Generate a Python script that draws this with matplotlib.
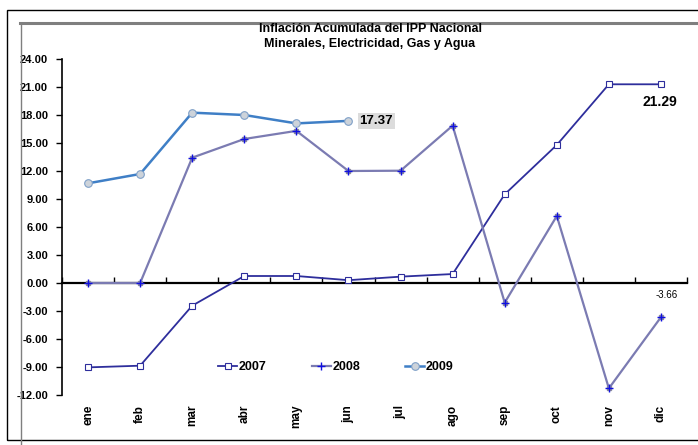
import numpy as np
import matplotlib.pyplot as plt
from matplotlib.lines import Line2D
from matplotlib.patches import Rectangle
import matplotlib.transforms as mtransforms

# ----- Datos -----
meses = ["ene", "feb", "mar", "abr", "may", "jun",
         "jul", "ago", "sep", "oct", "nov", "dic"]
v2007 = [-9.04, -8.86, -2.43, 0.75, 0.75, 0.30, 0.68, 0.96, 9.50, 14.79, 21.29, 21.29]
v2008 = [0.00, 0.00, 13.43, 15.43, 16.30, 12.00, 12.03, 16.86, -2.10, 7.18, -11.29, -3.66]
v2009 = [10.68, 11.68, 18.25, 18.00, 17.10, 17.37]
yticks = np.arange(-12, 24.01, 3)

plt.rcParams["font.family"] = ["Liberation Sans", "DejaVu Sans"]
NARROW = ["Liberation Sans Narrow", "Liberation Sans", "DejaVu Sans"]

W, H = 698, 445
fig = plt.figure(figsize=(W / 100, H / 100), dpi=100)
fig.patch.set_facecolor("white")

# ----- Marcos -----
fig.add_artist(Rectangle((7 / W, 1 - 440 / H), 1.2, (440 - 10) / H,
                         transform=fig.transFigure, fill=False,
                         edgecolor="black", linewidth=1.0))
fig.add_artist(Line2D([20 / W, 1], [1 - 23 / H, 1 - 23 / H],
                      transform=fig.transFigure, color="#7f7f7f", linewidth=2.2))
fig.add_artist(Line2D([21 / W, 21 / W], [1 - 23 / H, 0],
                      transform=fig.transFigure, color="#7f7f7f", linewidth=1.0))

# ----- Ejes -----
left, right, top, bottom = 62, 687, 59, 395
ax = fig.add_axes([left / W, 1 - bottom / H, (right - left) / W, (bottom - top) / H])
ax.set_facecolor("none")

x = np.arange(len(meses))
ax.set_xlim(-0.5, len(meses) - 0.5)
ax.set_ylim(-12, 24)

ax.plot(x, v2007, color="#2e2e9c", linewidth=1.3, marker="s", markersize=5,
        markerfacecolor="white", markeredgecolor="#2e2e9c", markeredgewidth=0.8,
        label="2007", zorder=3)
ax.plot(x, v2008, color="#7b7bb2", linewidth=1.6, linestyle="none",
        marker="s", markersize=3.5, markerfacecolor="#8a8a9a",
        markeredgecolor="#8a8a9a", zorder=3)
ax.plot(x, v2008, color="#7b7bb2", linewidth=1.6, marker="+", markersize=6,
        markeredgecolor="#1010e0", markeredgewidth=1.0, label="2008", zorder=4)
ax.plot(x[:len(v2009)], v2009, color="#3f7fc6", linewidth=1.8, marker="o",
        markersize=5.5, markerfacecolor="#cdd3da", markeredgecolor="#7fa0c8",
        markeredgewidth=0.8, label="2009", zorder=5)

# Spines
for s in ["top", "right"]:
    ax.spines[s].set_visible(False)
ax.spines["bottom"].set_position(("data", 0))
ax.spines["left"].set_linewidth(1.2)
ax.spines["bottom"].set_linewidth(1.6)

ax.set_yticks(yticks)
ax.set_yticklabels([f"{v:.2f}" for v in yticks], fontsize=8, fontweight="bold",
                   family=NARROW)
ax.tick_params(axis="y", direction="out", length=4, width=1.0, pad=6)

ax.set_xticks(np.arange(-0.5, len(meses), 1.0))
ax.set_xticklabels([])
ax.tick_params(axis="x", direction="in", length=4, width=1.0)

trans = mtransforms.blended_transform_factory(ax.transData, fig.transFigure)
for xi, m in zip(x, meses):
    ax.text(xi, 1 - 405 / H, m, rotation=90, ha="center", va="top",
            fontsize=8.5, fontweight="bold", transform=trans, family=NARROW)

# ----- Anotaciones -----
ax.annotate(f"{v2009[5]:.2f}", xy=(x[5], v2009[5]), xytext=(8, 0),
            textcoords="offset points", ha="left", va="center",
            fontsize=9.5, fontweight="bold",
            bbox=dict(boxstyle="square,pad=0.15", facecolor="#dcdcdc", edgecolor="none"))
ax.annotate(f"{v2007[11]:.2f}", xy=(x[11], v2007[11]), xytext=(-1, -13),
            textcoords="offset points", ha="center", va="center",
            fontsize=10, fontweight="bold", family=NARROW)
ax.annotate(f"{v2008[11]:.2f}", xy=(x[11], v2008[11]), xytext=(4, 16),
            textcoords="offset points", ha="center", va="center",
            fontsize=7)

# ----- Leyenda -----
leg = ax.legend(loc="center", bbox_to_anchor=(336 / W, 1 - 367 / H),
                bbox_transform=fig.transFigure, ncol=3, frameon=False,
                handlelength=1.5, handletextpad=0.15, columnspacing=3.6,
                prop=dict(size=9, weight="bold", family=NARROW))

# ----- Titulo -----
for yy, t in [(29, "Inflación Acumulada del IPP Nacional"),
              (44, "Minerales, Electricidad, Gas y Agua")]:
    fig.text(370 / W, 1 - yy / H, t, ha="center", va="center",
             fontsize=9, fontweight="bold", family=NARROW)

fig.savefig("out.png", dpi=100)
